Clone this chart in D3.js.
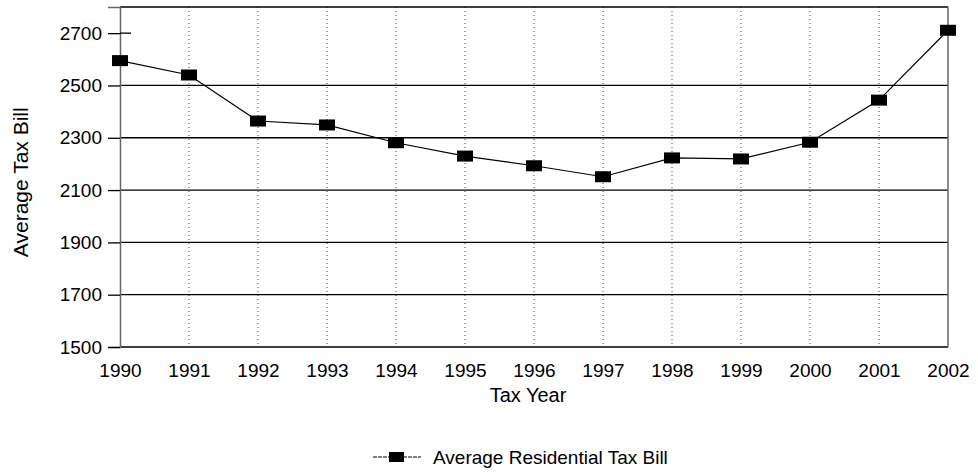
<!DOCTYPE html>
<html lang="en">
  <head>
    <meta charset="utf-8">
    <title>Average Residential Tax Bill</title>
    <script src="https://cdn.jsdelivr.net/npm/d3@7"></script>
    <style>
      body { margin: 0; background: #fff; }
      text { font-family: Arial, 'Liberation Sans', sans-serif; fill: #000; }
    </style>
  </head>
  <body>
    <div id="chart"></div>
    <script>
      // values
      const years = [1990, 1991, 1992, 1993, 1994, 1995, 1996, 1997, 1998, 1999, 2000, 2001, 2002];
      const taxBill = [2595, 2540, 2364, 2349, 2281, 2230, 2193, 2151, 2223, 2219, 2283, 2444, 2711];
      const yTicks = [1500, 1700, 1900, 2100, 2300, 2500, 2700];
      const seriesName = 'Average Residential Tax Bill';

      let W = 978, H = 476
      let margin = {top: 7, right: 30, bottom: 129, left: 120}
      let width = W - margin.left - margin.right
      let height = H - margin.top - margin.bottom

      let svg = d3.select('#chart').append('svg')
        .attr('width', W)
        .attr('height', H)
      let canvas = svg.append('g')
        .attr('transform', 'translate(' + margin.left + ',' + margin.top + ')')

      let x = d3.scalePoint().domain(years).range([0, width])
      let y = d3.scaleLinear().domain([1500, 2800]).range([height, 0])

      // dotted vertical grid
      canvas.append('g')
        .selectAll('line')
        .data(years.slice(1, -1))
        .enter().append('line')
        .attr('x1', d => x(d)).attr('x2', d => x(d))
        .attr('y1', 0).attr('y2', height)
        .attr('stroke', '#444')
        .attr('stroke-width', 1)
        .attr('stroke-dasharray', '1,3')

      // horizontal grid (the 2700 line is missing in the original)
      canvas.append('g')
        .selectAll('line')
        .data(yTicks.filter(d => d < 2700))
        .enter().append('line')
        .attr('x1', 0).attr('x2', width)
        .attr('y1', d => y(d)).attr('y2', d => y(d))
        .attr('stroke', '#000')
        .attr('stroke-width', 1.3)

      // frame
      canvas.append('line').attr('x1', 0).attr('x2', width).attr('y1', 0).attr('y2', 0)
        .attr('stroke', '#000').attr('stroke-width', 1.3)
      canvas.append('line').attr('x1', width).attr('x2', width).attr('y1', 0).attr('y2', height)
        .attr('stroke', '#666').attr('stroke-width', 1.5)

      // axes
      let y_axis = d3.axisLeft(y).tickValues(yTicks).tickSize(12).tickPadding(6).tickFormat(d3.format('d'))
      let gy = canvas.append('g').call(y_axis)
      gy.select('.domain').attr('stroke', '#666').attr('stroke-width', 1.5)
      gy.selectAll('.tick line').attr('stroke', '#000').attr('stroke-width', 1.3)
      gy.selectAll('.tick text').attr('font-size', 19).attr('fill', '#000')
      // small stub of the 2700 grid line
      canvas.append('line').attr('x1', 0).attr('x2', 11).attr('y1', y(2700)).attr('y2', y(2700))
        .attr('stroke', '#000').attr('stroke-width', 1.3)

      let x_axis = d3.axisBottom(x).tickSize(0).tickPadding(17).tickFormat(d3.format('d'))
      let gx = canvas.append('g')
        .attr('transform', 'translate(0,' + height + ')')
        .call(x_axis)
      gx.select('.domain').remove()
      gx.selectAll('.tick text').attr('font-size', 19).attr('fill', '#000')

      // axis titles
      canvas.append('text')
        .attr('x', width / 2 - 6)
        .attr('y', height + 55)
        .attr('text-anchor', 'middle')
        .attr('font-size', 20)
        .text('Tax Year')

      svg.append('text')
        .attr('transform', 'translate(28,' + (margin.top + y(2130)) + ') rotate(-90)')
        .attr('text-anchor', 'middle')
        .attr('font-size', 21)
        .text('Average Tax Bill')

      // series line + markers
      let pts = years.map((yr, i) => ({yr: yr, v: taxBill[i]}))
      canvas.append('path')
        .datum(pts)
        .attr('fill', 'none')
        .attr('stroke', '#000')
        .attr('stroke-width', 1.2)
        .attr('d', d3.line().x(d => x(d.yr)).y(d => y(d.v)))

      canvas.selectAll('rect.mk')
        .data(pts)
        .enter().append('rect')
        .attr('class', 'mk')
        .attr('x', d => x(d.yr) - 8)
        .attr('y', d => y(d.v) - 5.5)
        .attr('width', 16)
        .attr('height', 11)
        .attr('fill', '#000')

      // legend
      let lg = svg.append('g').attr('transform', 'translate(373,457)')
      lg.append('line').attr('x1', 0).attr('x2', 48).attr('y1', 0).attr('y2', 0)
        .attr('stroke', '#000').attr('stroke-width', 1.2).attr('stroke-dasharray', '4,1')
      lg.append('rect').attr('x', 16).attr('y', -5).attr('width', 15).attr('height', 10).attr('fill', '#000')
      lg.append('text').attr('x', 60).attr('y', 0).attr('dy', '0.35em')
        .attr('font-size', 19)
        .text(seriesName)
    </script>
  </body>
</html>
